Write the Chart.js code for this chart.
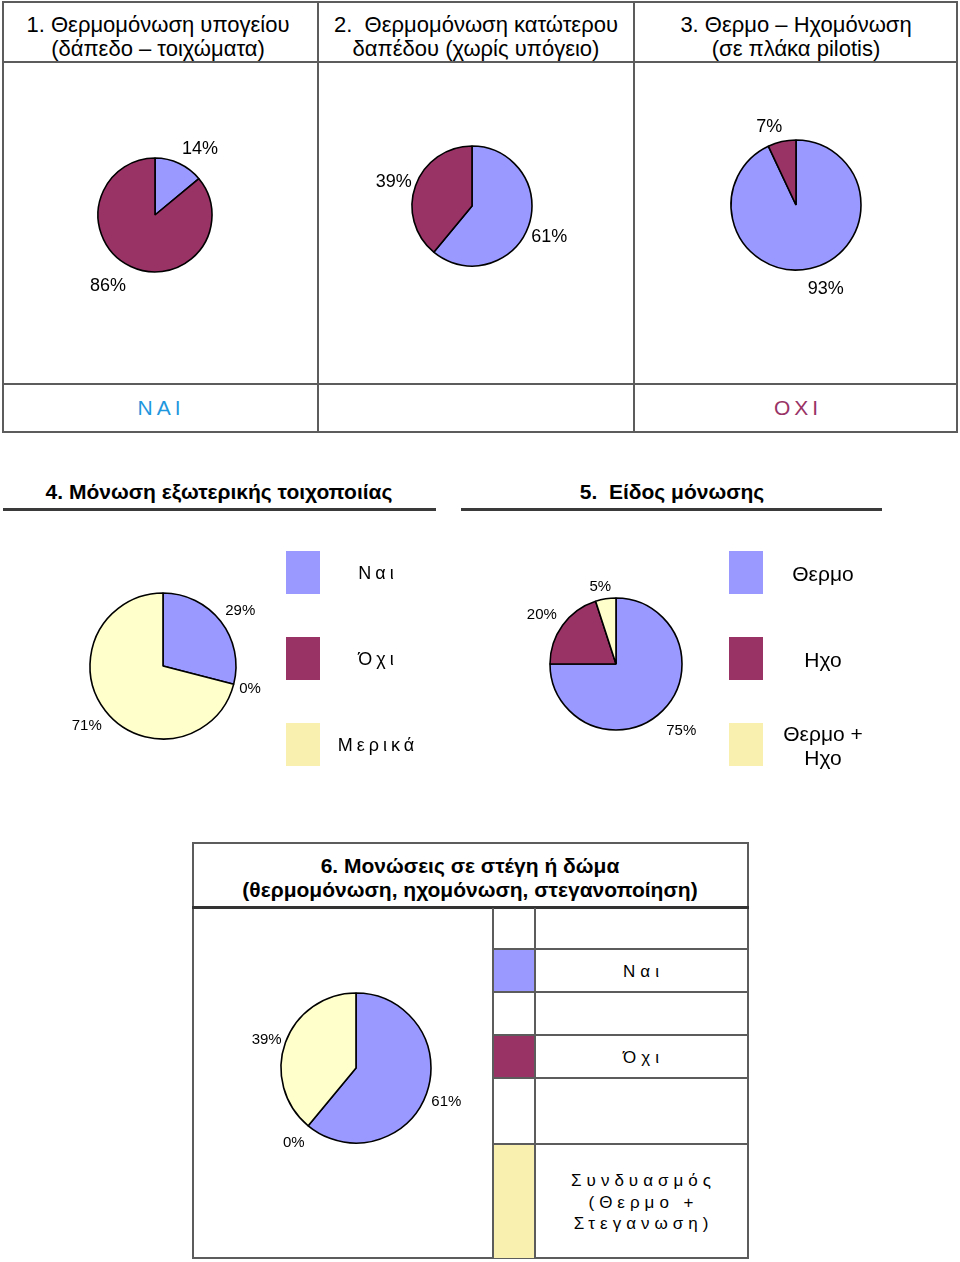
<!DOCTYPE html>
<html>
<head>
<meta charset="utf-8">
<script src="https://cdn.jsdelivr.net/npm/chart.js"></script>
<style>
  body { margin: 0; background: #fff; font-family: "Liberation Sans", Arial, sans-serif; }
  #page { position: relative; width: 960px; height: 1262px; overflow: hidden; }
  .ln { position: absolute; background: #5c5c5c; }
  .txt { position: absolute; transform: translate(-50%, -50%); text-align: center; color: #000; }
  .box { position: absolute; }
  canvas { position: absolute; }
</style>
</head>
<body>
<div id="page"></div>
<script>
// data
const yesNoLabels = ['Ναι', 'Όχι'];
const basementValues = [14, 86];
const floorValues = [61, 39];
const pilotisValues = [93, 7];

const wallLabels = ['Ναι', 'Όχι', 'Μερικά'];
const wallValues = [29, 0, 71];

const typeLabels = ['Θερμο', 'Ηχο', 'Θερμο + Ηχο'];
const typeValues = [75, 20, 5];

const roofLabels = ['Ναι', 'Όχι', 'Συνδυασμός (Θερμο + Στεγανωση)'];
const roofValues = [61, 0, 39];

const BLUE = '#9999ff';
const MAROON = '#993366';
const YELLOW = '#ffffcc';
const YELLOW_KEY = '#f9f0b0';

const page = document.querySelector('#page');

function line(x, y, w, h, color) {
  const d = document.createElement('div');
  d.className = 'ln';
  d.style.left = x + 'px';
  d.style.top = y + 'px';
  d.style.width = w + 'px';
  d.style.height = h + 'px';
  if (color) d.style.background = color;
  page.appendChild(d);
}

function text(x, y, html, css) {
  const d = document.createElement('div');
  d.className = 'txt';
  d.style.left = x + 'px';
  d.style.top = y + 'px';
  d.innerHTML = html;
  if (css) d.style.cssText += css;
  page.appendChild(d);
}

function rect(x, y, w, h, color) {
  const d = document.createElement('div');
  d.className = 'box';
  d.style.left = x + 'px';
  d.style.top = y + 'px';
  d.style.width = w + 'px';
  d.style.height = h + 'px';
  d.style.background = color;
  page.appendChild(d);
}

// percentage labels around each pie, with small per-label nudges
function pctLabels(fontSize, gap, nudges) {
  return {
    id: 'pct',
    afterDatasetsDraw(chart) {
      const ctx = chart.ctx;
      const arcs = chart.getDatasetMeta(0).data;
      const vals = chart.data.datasets[0].data;
      ctx.save();
      ctx.font = fontSize + 'px "Liberation Sans", Arial, sans-serif';
      ctx.fillStyle = '#000';
      ctx.textAlign = 'center';
      ctx.textBaseline = 'middle';
      arcs.forEach(function(arc, i) {
        const p = arc.getProps(['x', 'y', 'startAngle', 'endAngle', 'outerRadius']);
        const a = (p.startAngle + p.endAngle) / 2;
        const d = p.outerRadius + gap;
        const n = nudges[i] || [0, 0];
        ctx.fillText(vals[i] + '%', p.x + Math.cos(a) * d + n[0], p.y + Math.sin(a) * d + n[1] + 1);
      });
      ctx.restore();
    }
  };
}

function makePie(cx, cy, r, labels, values, colors, fontSize, gap, nudges) {
  const size = 2 * r + 150;
  const cv = document.createElement('canvas');
  cv.width = size;
  cv.height = size;
  cv.style.left = (cx - size / 2) + 'px';
  cv.style.top = (cy - size / 2) + 'px';
  page.appendChild(cv);

  // eslint-disable-next-line no-undef
  return new Chart(cv, {
    type: 'pie',
    data: {
      labels: labels,
      datasets: [{
        data: values,
        backgroundColor: colors,
        borderColor: '#000',
        borderWidth: 1.6,
        hoverOffset: 0,
      }]
    },
    options: {
      responsive: false,
      animation: false,
      events: [],
      radius: r,
      plugins: {
        legend: { display: false },
        tooltip: { enabled: false },
      }
    },
    plugins: [pctLabels(fontSize, gap, nudges || [])],
  });
}

// ---- top table ----
line(3, 1, 955, 2);
line(3, 61, 955, 2);
line(3, 383, 955, 2);
line(3, 431, 955, 2);
line(2, 1, 2, 432);
line(317, 1, 2, 432);
line(633, 1, 2, 432);
line(956, 1, 2, 432);

const headCss = 'font-size:22px;line-height:24px;white-space:nowrap;';
text(158, 37, '1. Θερμομόνωση υπογείου<br>(δάπεδο – τοιχώματα)', headCss);
text(476, 37, '2.&nbsp; Θερμομόνωση κατώτερου<br>δαπέδου (χωρίς υπόγειο)', headCss);
text(796, 37, '3. Θερμο – Ηχομόνωση<br>(σε πλάκα pilotis)', headCss);

text(159, 408, 'NAI', 'font-size:21px;letter-spacing:4px;padding-left:4px;color:#1f97de;');
text(796, 408, 'OXI', 'font-size:21px;letter-spacing:4px;padding-left:4px;color:#993366;');

makePie(155, 215, 57, yesNoLabels, basementValues, [BLUE, MAROON], 18, 23, [[11, 5], [-13, -2]]);
makePie(472, 206, 60, yesNoLabels, floorValues, [BLUE, MAROON], 18, 22, [[0, 2], [-1, 3]]);
makePie(796, 205, 65, yesNoLabels, pilotisValues, [BLUE, MAROON], 18, 21, [[11, -1], [-8, 5]]);

// ---- section 4 and 5 ----
const titleCss = 'font-size:21px;font-weight:bold;white-space:nowrap;';
text(219, 492, '4. Μόνωση εξωτερικής τοιχοποιίας', titleCss);
text(672, 492, '5.&nbsp; Είδος μόνωσης', titleCss);
line(3, 508, 433, 3, '#3a3a3a');
line(461, 508, 421, 3, '#3a3a3a');

makePie(163, 666, 73, wallLabels, wallValues, [BLUE, MAROON, YELLOW], 15, 21, [[3, 1], [-4, -2], [-2, 1]]);
makePie(616, 664, 66, typeLabels, typeValues, [BLUE, MAROON, YELLOW], 15, 22, [[3, 4], [-3, 2], [-2, 9]]);

const keyColors = [BLUE, MAROON, YELLOW_KEY];
const keyTops = [551, 637, 723];
wallLabels.forEach(function(lbl, i) {
  rect(286, keyTops[i], 34, 43, keyColors[i]);
  text(376, keyTops[i] + 22, lbl, 'font-size:18px;letter-spacing:4px;padding-left:4px;white-space:nowrap;');
});
typeLabels.forEach(function(lbl, i) {
  rect(729, keyTops[i], 34, 43, keyColors[i]);
  text(823, keyTops[i] + 23, lbl, 'font-size:21px;line-height:24px;width:95px;');
});

// ---- section 6 ----
line(192, 842, 557, 2);
line(192, 1257, 557, 2);
line(192, 842, 2, 417);
line(747, 842, 2, 417);
line(192, 906, 557, 3, '#333');
text(470, 878, '6. Μονώσεις σε στέγη ή δώμα<br>(θερμομόνωση, ηχομόνωση, στεγανοποίηση)', 'font-size:21px;line-height:24px;font-weight:bold;white-space:nowrap;');

const rowLines = [949, 992, 1035, 1078, 1144];
const keyRows = [[949, 992], [1035, 1078], [1144, 1258]];
roofLabels.forEach(function(lbl, i) {
  const r = keyRows[i];
  rect(493, r[0], 42, r[1] - r[0], keyColors[i]);
  text(641, (r[0] + r[1]) / 2 + 1, lbl, 'font-size:17px;line-height:21.5px;letter-spacing:5px;padding-left:5px;width:170px;');
});
rowLines.forEach(function(y) { line(493, y - 1, 255, 2); });
line(492, 908, 2, 350);
line(534, 908, 2, 350);

makePie(356, 1068, 75, roofLabels, roofValues, [BLUE, MAROON, YELLOW], 15, 21, [[0, 0], [-1, 0], [1, 3]]);
</script>
</body>
</html>
